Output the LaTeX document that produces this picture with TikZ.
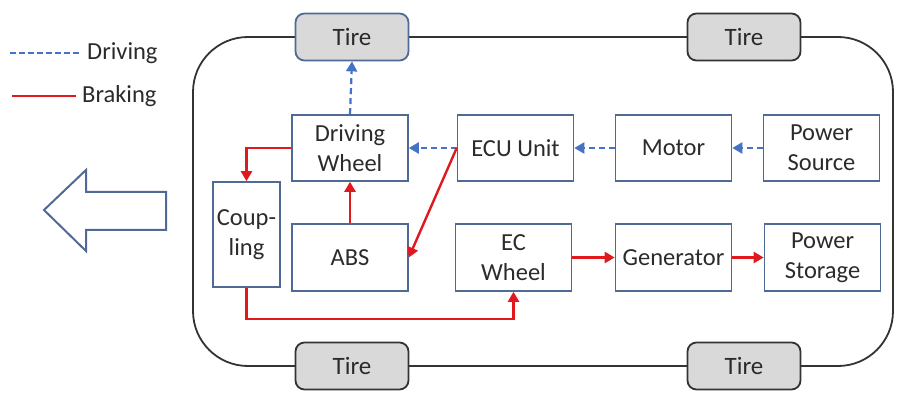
\documentclass[tikz,border=0pt]{standalone}
\usepackage{fontspec}
\setmainfont{Carlito}
\usetikzlibrary{arrows.meta}
\definecolor{boxc}{HTML}{4F6A94}
\definecolor{drv}{HTML}{4472C4}
\definecolor{brk}{HTML}{E0191E}
\definecolor{tirefill}{HTML}{D9D9D9}
\definecolor{bodyc}{HTML}{333333}
\definecolor{txt}{HTML}{2B2B2B}
\tikzset{
  blk/.style={draw=boxc, line width=1.6pt, minimum width=116pt, minimum height=66pt, inner sep=0pt, align=center, font=\fontsize{24.5}{30}\selectfont, text=txt},
  tire/.style={draw=bodyc, fill=tirefill, line width=1.8pt, rounded corners=9pt, minimum width=113pt, minimum height=47pt, inner sep=0pt, font=\fontsize{25}{28}\selectfont, text=txt},
  drive/.style={drv, line width=2.2pt, dash pattern=on 6pt off 4pt, -{Triangle[length=10pt,width=11pt]}},
  brake/.style={brk, line width=2.4pt, -{Triangle[length=10pt,width=11pt]}},
  leg/.style={font=\fontsize{24.5}{28}\selectfont, text=txt, anchor=west, inner sep=0pt}
}
\begin{document}
\begin{tikzpicture}[x=1pt,y=-1pt]
\useasboundingbox (0,0) rectangle (899,395);
% car body
\draw[bodyc, line width=1.8pt, rounded corners=55pt] (193,37) rectangle (893,366);
% tires
\node[tire, draw=boxc] (t1) at (352,37) {Tire};
\node[tire] (t2) at (744,37) {Tire};
\node[tire] (t3) at (352,366) {Tire};
\node[tire] (t4) at (744,366) {Tire};
% blocks
\node[blk] (dw) at (350,148) {Driving\\Wheel};
\node[blk] (ecu) at (515.5,148) {ECU Unit};
\node[blk] (mot) at (673.5,148) {Motor};
\node[blk] (ps) at (821.5,148) {Power\\Source};
\node[blk, minimum width=67pt, minimum height=105pt] (cp) at (246.5,234.5) {Coup-\\ling};
\node[blk, minimum height=67pt] (abs) at (350,257.5) {ABS};
\node[blk, minimum height=67pt] (ecw) at (513.5,257.5) {EC\\Wheel};
\node[blk, minimum height=67pt] (gen) at (673.5,257.5) {Generator};
\node[blk, minimum height=67pt] (pst) at (822.5,257.5) {Power\\Storage};
% driving arrows
\draw[drive] (dw.north) -- (t1.south);
\draw[drive] (ecu.west) -- (dw.east);
\draw[drive] (mot.west) -- (ecu.east);
\draw[drive] (ps.west) -- (mot.east);
% braking arrows
\draw[brake] (dw.west) -| (cp.north);
\draw[brake] (abs.north) -- (dw.south);
\draw[brake] (ecu.west) -- (abs.east);
\draw[brake] (cp.south) -- ++(0,31) -| (ecw.south);
\draw[brake] (ecw.east) -- (gen.west);
\draw[brake] (gen.east) -- (pst.west);
% legend
\coordinate (l1a) at (10,53);
\coordinate (l1b) at (81,53);
\draw[drv, line width=2pt, dash pattern=on 6pt off 3pt] (l1a) -- (l1b);
\node[leg] (ld) at (87,53) {Driving};
\coordinate (l2a) at (12,96);
\coordinate (l2b) at (76,96);
\draw[brk, line width=2.4pt] (l2a) -- (l2b);
\node[leg] (lb) at (82,96) {Braking};
% big arrow
\draw[boxc, line width=2pt, line join=miter] (44,210) -- (86,170) -- (86,192) -- (166,192) -- (166,230) -- (86,230) -- (86,251) -- cycle;
\end{tikzpicture}
\end{document}
